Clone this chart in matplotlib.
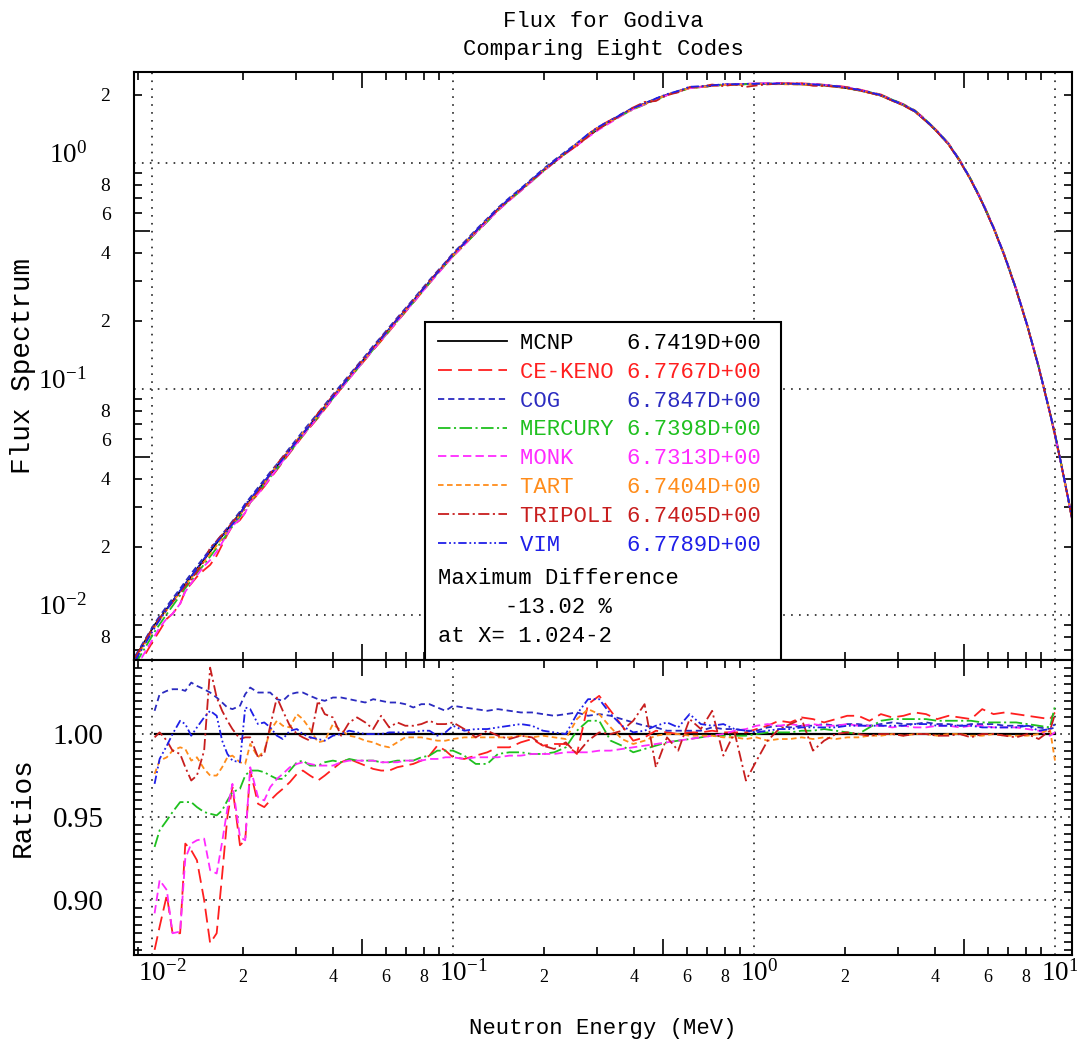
import numpy as np
import matplotlib
matplotlib.use('Agg')
import matplotlib.pyplot as plt
from matplotlib.lines import Line2D
from matplotlib.patches import Rectangle
from matplotlib.ticker import FixedLocator, FuncFormatter, MultipleLocator
from matplotlib.transforms import ScaledTranslation

# energy grid (MeV) shared by flux and ratio curves
energy = [
    0.0088,
    0.0102, 0.0106, 0.0112, 0.0117, 0.0124, 0.0129, 0.0135, 0.0141, 0.0149, 0.0156,
    0.0164, 0.0171, 0.0178, 0.0185, 0.0196, 0.0204, 0.0212, 0.0225, 0.0236, 0.0247,
    0.0260, 0.0272, 0.0287, 0.0303, 0.0317, 0.0335, 0.0356, 0.0375, 0.0399, 0.0425,
    0.0452, 0.0480, 0.0511, 0.0543, 0.0577, 0.0614, 0.0653, 0.0694, 0.0738, 0.0785,
    0.0835, 0.0887, 0.0944, 0.100,
    0.109, 0.119, 0.130, 0.141, 0.154, 0.168, 0.183, 0.199, 0.217, 0.237,
    0.258, 0.281, 0.306, 0.334, 0.364, 0.397, 0.433, 0.472, 0.514, 0.560,
    0.611, 0.666, 0.726, 0.791, 0.862, 0.940, 1.02,
    1.11, 1.21, 1.32, 1.44, 1.57, 1.71, 1.87, 2.04, 2.22, 2.42,
    2.64, 2.88, 3.14, 3.42, 3.73, 4.06, 4.43, 4.83, 5.26, 5.73,
    6.25, 6.81, 7.43, 8.10, 8.83, 9.62, 10.0,
    10.5, 11.0, 11.4]

# MCNP flux spectrum
mcnp_flux = [
    0.0065,
    0.00904, 0.00965, 0.01065, 0.0115, 0.01273, 0.0137, 0.01479, 0.01597, 0.01758, 0.01905,
    0.0208, 0.02234, 0.0239, 0.0256, 0.0282, 0.0303, 0.0322, 0.0357, 0.0387, 0.0418,
    0.0455, 0.0492, 0.0537, 0.0587, 0.0634, 0.0694, 0.0766, 0.0835, 0.0924, 0.1022,
    0.1129, 0.1244, 0.1375, 0.1518, 0.1667, 0.1841, 0.2029, 0.2230, 0.2455, 0.2704,
    0.2977, 0.3266, 0.3589, 0.392,
    0.440, 0.498, 0.560, 0.624, 0.692, 0.762, 0.841, 0.927, 1.018, 1.112,
    1.208, 1.315, 1.422, 1.527, 1.637, 1.746, 1.829, 1.919, 2.003, 2.075,
    2.148, 2.171, 2.193, 2.218, 2.224, 2.234, 2.239,
    2.239, 2.239, 2.234, 2.228, 2.218, 2.203, 2.178, 2.143, 2.099, 2.046,
    1.986, 1.888, 1.799, 1.690, 1.531, 1.374, 1.208, 1.019, 0.838, 0.668,
    0.515, 0.385, 0.275, 0.189, 0.1247, 0.0783, 0.0624,
    0.0460, 0.0339, 0.0265]

# ratios of each code to MCNP
ce_keno = [
    0.870,
    0.870, 0.884, 0.903, 0.880, 0.880, 0.934, 0.930, 0.924, 0.900, 0.874,
    0.880, 0.915, 0.950, 0.968, 0.933, 0.936, 0.978, 0.958, 0.956, 0.960,
    0.964, 0.967, 0.971, 0.976, 0.978, 0.975, 0.972, 0.975, 0.979, 0.983,
    0.985, 0.983, 0.981, 0.979, 0.978, 0.978, 0.980, 0.981, 0.982, 0.984,
    0.987, 0.993, 0.990, 0.986,
    0.985, 0.987, 0.989, 0.992, 0.992, 0.995, 0.997, 0.993, 0.994, 0.994,
    0.988, 1.018, 1.023, 1.014, 1.005, 0.996, 0.998, 1.002, 1.001, 1.000,
    1.001, 1.001, 1.002, 1.001, 1.001, 1.001, 1.003,
    1.005, 1.008, 1.007, 1.010, 1.009, 1.007, 1.009, 1.011, 1.011, 1.008,
    1.012, 1.010, 1.011, 1.013, 1.012, 1.009, 1.011, 1.010, 1.009, 1.015,
    1.012, 1.013, 1.012, 1.011, 1.010, 1.009, 1.013,
    1.010, 1.010, 1.010]

cog = [
    1.014,
    1.014, 1.024, 1.026, 1.027, 1.027, 1.026, 1.031, 1.029, 1.027, 1.025,
    1.022, 1.019, 1.016, 1.015, 1.017, 1.024, 1.028, 1.025, 1.025, 1.025,
    1.021, 1.020, 1.024, 1.025, 1.025, 1.023, 1.021, 1.020, 1.022, 1.022,
    1.021, 1.020, 1.019, 1.021, 1.020, 1.019, 1.019, 1.018, 1.016, 1.018,
    1.018, 1.016, 1.014, 1.017,
    1.016, 1.015, 1.014, 1.015, 1.014, 1.013, 1.013, 1.012, 1.011, 1.012,
    1.013, 1.011, 1.012, 1.011, 1.009, 1.007, 1.005, 1.004, 1.002, 1.002,
    1.002, 1.002, 1.004, 1.003, 1.003, 1.002, 1.002,
    1.004, 1.005, 1.004, 1.005, 1.005, 1.006, 1.005, 1.006, 1.006, 1.005,
    1.006, 1.007, 1.006, 1.006, 1.007, 1.006, 1.006, 1.005, 1.006, 1.006,
    1.006, 1.005, 1.005, 1.005, 1.004, 1.003, 1.004,
    1.004, 1.004, 1.004]

mercury = [
    0.932,
    0.932, 0.942, 0.948, 0.953, 0.959, 0.959, 0.959, 0.956, 0.953, 0.952,
    0.951, 0.954, 0.960, 0.965, 0.967, 0.975, 0.978, 0.978, 0.977, 0.975,
    0.973, 0.973, 0.978, 0.983, 0.984, 0.981, 0.981, 0.983, 0.984, 0.983,
    0.985, 0.984, 0.984, 0.984, 0.983, 0.983, 0.984, 0.984, 0.984, 0.986,
    0.987, 0.990, 0.990, 0.990,
    0.987, 0.982, 0.982, 0.988, 0.989, 0.989, 0.988, 0.988, 0.989, 0.992,
    1.002, 1.008, 1.008, 0.996, 0.993, 0.989, 0.991, 0.993, 0.995, 0.996,
    0.997, 0.998, 0.999, 0.999, 0.999, 0.999, 1.000,
    1.001, 1.001, 1.001, 1.002, 1.002, 1.003, 1.002, 1.001, 1.000, 1.004,
    1.008, 1.009, 1.009, 1.009, 1.009, 1.008, 1.008, 1.008, 1.008, 1.007,
    1.007, 1.007, 1.007, 1.006, 1.005, 1.004, 1.017,
    1.005, 1.005, 1.005]

monk = [
    0.892,
    0.892, 0.912, 0.906, 0.880, 0.881, 0.925, 0.934, 0.936, 0.937, 0.918,
    0.916, 0.935, 0.955, 0.970, 0.938, 0.936, 0.980, 0.962, 0.960, 0.968,
    0.973, 0.976, 0.980, 0.982, 0.983, 0.982, 0.981, 0.981, 0.981, 0.983,
    0.984, 0.984, 0.984, 0.984, 0.983, 0.983, 0.983, 0.984, 0.984, 0.984,
    0.985, 0.985, 0.986, 0.986,
    0.985, 0.986, 0.986, 0.986, 0.987, 0.987, 0.988, 0.988, 0.988, 0.989,
    0.989, 0.989, 0.990, 0.990, 0.991, 0.992, 0.993, 0.994, 0.995, 0.996,
    0.997, 0.998, 0.999, 1.000, 1.002, 1.003, 1.005,
    1.006, 1.005, 1.006, 1.005, 1.006, 1.005, 1.005, 1.006, 1.005, 1.005,
    1.005, 1.004, 1.005, 1.004, 1.004, 1.005, 1.005, 1.004, 1.005, 1.005,
    1.004, 1.004, 1.004, 1.003, 1.002, 0.999, 1.001,
    1.001, 1.001, 1.001]

tart = [
    0.976,
    0.976, 0.984, 0.986, 0.990, 0.992, 0.991, 0.984, 0.986, 0.979, 0.975,
    0.975, 0.980, 0.986, 0.987, 0.983, 0.982, 0.994, 0.986, 0.990, 1.002,
    1.008, 1.005, 1.004, 1.012, 1.009, 1.003, 0.995, 0.996, 1.006, 1.002,
    0.999, 0.998, 0.996, 0.995, 0.993, 0.992, 0.995, 0.998, 0.998, 0.998,
    0.997, 0.996, 0.996, 0.997,
    0.998, 0.998, 0.998, 0.998, 0.998, 0.999, 0.998, 0.999, 0.998, 0.997,
    1.009, 1.015, 1.012, 1.004, 0.997, 0.994, 0.996, 0.999, 1.000, 1.000,
    0.999, 0.999, 0.999, 0.998, 0.998, 0.997, 0.998,
    0.996, 0.997, 0.997, 0.998, 0.997, 0.998, 0.997, 0.998, 0.998, 0.999,
    0.999, 1.000, 0.999, 1.000, 1.000, 0.999, 1.000, 1.000, 0.999, 0.999,
    1.000, 0.999, 0.999, 0.999, 1.000, 1.003, 0.984,
    0.995, 0.995, 0.995]

tripoli = [
    0.998,
    0.998, 1.001, 0.996, 0.990, 0.988, 0.980, 0.972, 0.975, 0.990, 1.040,
    1.022, 1.014, 1.008, 1.003, 0.997, 0.998, 0.998, 0.986, 0.988, 1.005,
    1.022, 1.014, 1.005, 1.000, 0.998, 0.996, 1.020, 1.012, 1.010, 0.999,
    1.007, 1.010, 1.007, 1.003, 1.011, 1.004, 1.007, 1.005, 1.005, 1.006,
    1.008, 1.006, 1.006, 1.007,
    1.003, 0.998, 1.002, 0.999, 0.997, 0.999, 0.998, 0.993, 0.991, 0.995,
    0.988, 0.996, 1.001, 1.000, 1.002, 1.008, 1.018, 0.980, 0.998, 0.990,
    1.009, 1.003, 1.014, 0.987, 1.001, 0.972, 0.984,
    0.996, 1.003, 1.006, 1.009, 0.990, 0.996, 1.000, 1.001, 1.000, 0.999,
    1.000, 1.000, 0.999, 1.000, 1.000, 0.999, 0.999, 1.000, 0.998, 1.000,
    1.000, 0.999, 0.998, 1.000, 0.997, 1.002, 1.012,
    1.000, 1.000, 1.000]

vim = [
    0.970,
    0.970, 0.985, 0.993, 1.000, 1.008, 1.006, 0.999, 1.004, 1.010, 1.014,
    1.011, 0.996, 0.988, 0.984, 0.983, 1.016, 1.015, 1.006, 1.007, 1.004,
    0.999, 0.997, 1.002, 1.003, 1.000, 0.998, 0.997, 0.996, 0.999, 1.000,
    1.002, 1.001, 1.000, 1.000, 1.000, 1.001, 1.001, 1.001, 1.001, 1.002,
    1.002, 0.999, 1.001, 1.005,
    1.002, 1.003, 1.003, 1.004, 1.005, 1.006, 1.005, 1.002, 1.001, 1.000,
    1.012, 1.021, 1.021, 1.012, 1.005, 1.001, 1.002, 1.005, 1.007, 1.004,
    1.012, 1.006, 1.005, 1.006, 1.003, 1.002, 1.001,
    1.002, 1.003, 1.003, 1.004, 1.004, 1.004, 1.004, 1.005, 1.005, 1.005,
    1.005, 1.005, 1.005, 1.006, 1.006, 1.005, 1.005, 1.005, 1.005, 1.004,
    1.004, 1.004, 1.004, 1.005, 1.002, 1.003, 1.006,
    1.004, 1.004, 1.004]

names = ['MCNP', 'CE-KENO', 'COG', 'MERCURY', 'MONK', 'TART', 'TRIPOLI', 'VIM']
k_values = ['6.7419D+00', '6.7767D+00', '6.7847D+00', '6.7398D+00',
            '6.7313D+00', '6.7404D+00', '6.7405D+00', '6.7789D+00']

colors = ['black', '#ff1f1f', '#2b2bc0', '#1fc01f', '#ff2bff', '#ff8c1a', '#c81e1e', '#1f1fe8']
dashes = [None, (10, 4.5), (4.5, 2.8), (9, 2.5, 1.5, 2.5), (6, 3), (4, 2.5),
          (8, 2.5, 1.5, 2.5), (6, 2, 1.3, 2, 1.3, 2)]

plt.rcParams['lines.scale_dashes'] = False
plt.rcParams['font.family'] = 'Liberation Serif'
plt.rcParams['mathtext.fontset'] = 'custom'
plt.rcParams['mathtext.rm'] = 'Liberation Serif'
plt.rcParams['mathtext.default'] = 'rm'
mono = 'Liberation Mono'

E = np.array(energy)
flux0 = np.array(mcnp_flux)
ratios = [flux0 / flux0] + [np.array(r) for r in (ce_keno, cog, mercury, monk, tart, tripoli, vim)]
sel = (E >= 0.01) & (E <= 10.0)

fig = plt.figure(figsize=(10.77, 10.49), dpi=100)
W, H = 1077, 1049
ax1 = fig.add_axes([134 / W, 1 - 660 / H, 938 / W, 588 / H])
ax2 = fig.add_axes([134 / W, 1 - 955 / H, 938 / W, 295 / H], sharex=ax1)


def style(line, d):
    if d is not None:
        line.set_dashes(d)


for r, c, d in zip(ratios, colors, dashes):
    l1, = ax1.plot(E, flux0 * r, color=c, lw=1.3)
    style(l1, d)
    l2, = ax2.plot(E[sel], r[sel], color=c, lw=1.3 if d else 1.6)
    style(l2, d)

ax1.set_xscale('log')
ax1.set_yscale('log')
ax1.set_xlim(0.008713, 11.39)
ax1.set_ylim(0.00632, 2.527)
ax2.set_ylim(0.8669, 1.0446)

# ticks
xmajor = [0.01, 0.1, 1.0, 10.0]
xminor = [m * 10.0 ** k for k in (-3, -2, -1, 0, 1) for m in range(2, 10)]
xminor = [v for v in xminor if 0.0087 < v < 11.39]
ymajor = [0.01, 0.1, 1.0]
yminor = [m * 10.0 ** k for k in (-3, -2, -1, 0) for m in range(2, 10)]
yminor = [v for v in yminor if 0.00632 < v < 2.527]


def mant(v):
    return int(round(v / 10 ** np.floor(np.log10(v) + 1e-9)))


decade_fmt = FuncFormatter(lambda v, p: r'$10^{%d}$' % round(np.log10(v)))
minor_fmt = FuncFormatter(lambda v, p: str(mant(v)) if mant(v) in (2, 4, 6, 8) else '')

ax1.xaxis.set_major_locator(FixedLocator(xmajor))
ax1.xaxis.set_minor_locator(FixedLocator(xminor))
ax1.xaxis.set_major_formatter(decade_fmt)
ax1.xaxis.set_minor_formatter(minor_fmt)
ax1.yaxis.set_major_locator(FixedLocator(ymajor))
ax1.yaxis.set_minor_locator(FixedLocator(yminor))
ax1.yaxis.set_major_formatter(decade_fmt)
ax1.yaxis.set_minor_formatter(minor_fmt)

ax2.yaxis.set_major_locator(FixedLocator([0.90, 0.95, 1.00]))
ax2.yaxis.set_minor_locator(MultipleLocator(0.005))
ax2.yaxis.set_major_formatter(FuncFormatter(lambda v, p: '%.2f' % v))

grid_ls = (0, (1.2, 4.5))
for ax in (ax1, ax2):
    ax.grid(which='major', color='#222222', ls=grid_ls, lw=1.2)
    ax.tick_params(which='both', direction='in', top=True, right=True, width=1.2)
    ax.tick_params(which='major', length=0)
    ax.tick_params(which='minor', length=5.5)
    for s in ax.spines.values():
        s.set_linewidth(1.5)

ax1.tick_params(axis='x', which='both', labelbottom=False)
ax1.tick_params(axis='y', which='major', labelsize=19.5, pad=34)
ax1.tick_params(axis='y', which='minor', labelsize=14, pad=17)
ax2.tick_params(axis='x', which='major', labelsize=19.5, pad=4)
ax2.tick_params(axis='x', which='minor', labelsize=13, pad=10)
ax2.tick_params(axis='y', which='major', labelsize=21, pad=22)
ax2.tick_params(axis='y', which='minor', labelleft=False)


# longer ticks at the 5's
def stretch_fives(axis, locs):
    for t, v in zip(axis.get_minor_ticks(len(locs)), locs):
        if mant(v) == 5:
            t.tick1line.set_markersize(11.5)
            t.tick2line.set_markersize(11.5)


stretch_fives(ax1.xaxis, xminor)
stretch_fives(ax2.xaxis, xminor)
stretch_fives(ax1.yaxis, yminor)

shift = ScaledTranslation(-0.14, 0, fig.dpi_scale_trans)
for lbl in ax2.get_xticklabels(which='major'):
    lbl.set_horizontalalignment('left')
    lbl.set_transform(lbl.get_transform() + shift)
for lbl in ax1.get_yticklabels(which='major'):
    lbl.set_verticalalignment('baseline')

# labels and title
ax1.set_title('Flux for Godiva\nComparing Eight Codes', fontfamily=mono, fontsize=16,
              linespacing=1.45, pad=12)
ax1.set_ylabel('Flux Spectrum', fontfamily=mono, fontsize=20)
ax2.set_ylabel('Ratios', fontfamily=mono, fontsize=20)
ax2.set_xlabel('Neutron Energy (MeV)', fontfamily=mono, fontsize=16)
ax1.yaxis.set_label_coords(-0.105, 0.5)
ax2.yaxis.set_label_coords(-0.105, 0.5)
ax2.xaxis.set_label_coords(0.5, -0.215)

# legend box with k-eff values
box = Rectangle((0.310, 0.0), 0.380, 0.575, transform=ax1.transAxes,
                facecolor='white', edgecolor='black', lw=1.5, zorder=4)
ax1.add_patch(box)
handles = []
for c, d in zip(colors, dashes):
    h = Line2D([], [], color=c, lw=1.3)
    style(h, d)
    handles.append(h)
labels = ['%-8s%s' % (n, v) for n, v in zip(names, k_values)]
leg = ax1.legend(handles, labels, loc='upper left', bbox_to_anchor=(0.324, 0.556),
                 frameon=False, prop={'family': mono, 'size': 16}, handlelength=3.1,
                 handletextpad=0.6, labelspacing=0.35, borderpad=0, borderaxespad=0)
leg.set_zorder(5)
for t, c in zip(leg.get_texts(), colors):
    t.set_color(c)
ax1.text(0.324, 0.156, 'Maximum Difference\n     -13.02 %\nat X= 1.024-2',
         transform=ax1.transAxes, fontfamily=mono, fontsize=16, va='top',
         linespacing=1.5, zorder=6)

fig.savefig('out.png', dpi=100)
